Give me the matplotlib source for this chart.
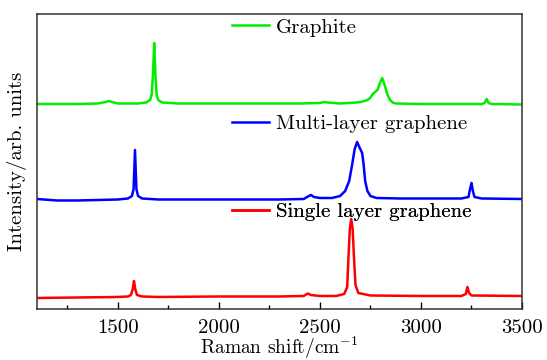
import matplotlib
matplotlib.use("Agg")
import matplotlib.pyplot as plt
from matplotlib.ticker import MultipleLocator

plt.rcParams['font.family'] = 'serif'
plt.rcParams['font.serif'] = ['cmr10', 'DejaVu Serif']
plt.rcParams['mathtext.fontset'] = 'cm'
plt.rcParams['axes.unicode_minus'] = False

# spectra (Raman shift, intensity in arb. units, offsets included)
graphite_x = [1100, 1300, 1400, 1440, 1455, 1470, 1500, 1600, 1640, 1660, 1668, 1674, 1680,
              1686, 1692, 1700, 1720, 1800, 2000, 2400, 2500, 2520, 2540, 2600, 2680, 2700,
              2720, 2735, 2748, 2762, 2773, 2785, 2795, 2808, 2820, 2835, 2847, 2860, 2875,
              3000, 3300, 3315, 3325, 3335, 3350, 3500]
graphite_y = [205, 205, 205.5, 207, 208, 207, 205.5, 205.5, 206.5, 209, 215, 235, 266,
              235, 214, 209, 206.5, 205.5, 205.5, 205.5, 206, 207, 206.5, 205.5, 206.5, 207,
              208, 209, 211, 215, 217, 219, 225, 231, 224, 214, 209, 206.5, 205.5,
              205, 205, 206, 210, 206, 205, 204.5]

multi_x = [1100, 1200, 1300, 1400, 1500, 1550, 1570, 1578, 1585, 1592, 1600, 1620, 1700,
           2000, 2300, 2420, 2445, 2456, 2470, 2500, 2560, 2600, 2625, 2645, 2660, 2672,
           2684, 2695, 2709, 2716, 2724, 2735, 2750, 2780, 2900, 3200, 3235, 3243, 3250,
           3257, 3265, 3300, 3500]
multi_y = [110, 108.5, 108.5, 109, 109.5, 110.5, 113, 120, 159, 120, 113, 110.5, 109.5,
           109.5, 109.5, 110, 113, 114, 112, 111, 111, 113, 118, 128, 145, 160,
           167, 162, 156, 145, 128, 118, 113, 111, 110.5, 110.5, 112, 120, 126,
           118, 112, 110.5, 110]

single_x = [1100, 1300, 1500, 1550, 1565, 1574, 1580, 1586, 1595, 1620, 1700, 2000, 2300,
            2420, 2440, 2455, 2500, 2580, 2620, 2635, 2641, 2648, 2655, 2662, 2669, 2676,
            2690, 2750, 3000, 3200, 3222, 3230, 3238, 3250, 3500]
single_y = [11, 11.5, 12, 12.5, 14, 20, 28, 20, 14, 12.5, 12, 12.5, 12.5,
            13, 15.5, 14, 13, 13, 15, 22, 50, 80, 90, 80, 50, 24,
            16, 13.5, 13, 13, 15, 22, 16, 13.5, 13]

labels = ['Graphite', 'Multi-layer graphene', 'Single layer graphene']
colors = ['#00EE00', '#0000FF', '#FF0000']
label_y = [0.955, 0.628, 0.330]

fig = plt.figure(figsize=(5.47, 3.60), dpi=100)
ax = fig.add_axes([0.0676, 0.1417, 0.8867, 0.8194])

series = [(graphite_x, graphite_y), (multi_x, multi_y), (single_x, single_y)]
for (xs, ys), lab, c, ly in zip(series, labels, colors, label_y):
    line, = ax.plot(xs, ys, color=c, lw=1.8)
    leg = ax.legend([line], [lab], loc='center left', bbox_to_anchor=(0.402, ly),
                    frameon=False, fontsize=15, handlelength=1.78, handletextpad=0.34,
                    borderpad=0, borderaxespad=0)
    ax.add_artist(leg)

ax.set_xlim(1100, 3500)
ax.set_ylim(0, 295)
ax.xaxis.set_major_locator(MultipleLocator(500))
ax.xaxis.set_minor_locator(MultipleLocator(250))
ax.tick_params(axis='x', which='major', direction='in', length=5, width=1, labelsize=15, pad=7)
ax.tick_params(axis='x', which='minor', direction='in', length=3, width=1)
ax.set_yticks([])
for s in ax.spines.values():
    s.set_linewidth(1.1)
    s.set_color('#333333')

ax.set_xlabel('Raman shift/cm$^{-1}$', fontsize=14, labelpad=-1)
ax.set_ylabel('Intensity/arb. units', fontsize=15, labelpad=7)

fig.savefig('out.png', dpi=100)
